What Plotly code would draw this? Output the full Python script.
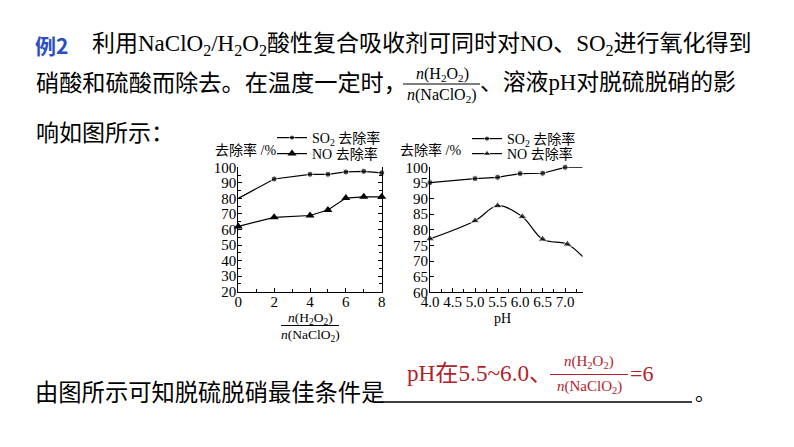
import plotly.graph_objects as go

W, H = 794, 447
OFF = 8  # page body margin of the browser

def px(x):
    return (x - OFF) / W

def py(y):
    return 1 - (y - OFF) / H

# ---------------- data ----------------
ratio_x = [0, 2, 4, 5, 6, 7, 8]
ratio_so2 = [80, 92.5, 95.5, 95.5, 97, 97.4, 96.4]
ratio_no = [62, 67.8, 69, 72.5, 80.2, 81, 81]

ph_so2_x = [4.0, 5.0, 5.5, 6.0, 6.5, 7.0, 7.39]
ph_so2 = [95.1, 96.4, 96.8, 98.0, 98.1, 100, 100]
ph_no_x = [4.0, 5.0, 5.5, 6.05, 6.5, 7.05, 7.39]
ph_no = [77.1, 82.9, 87.7, 84.2, 77.0, 75.4, 71.4]

ph_ticks = [4.0, 4.5, 5.0, 5.5, 6.0, 6.5, 7.0]
ph_ticktext = ["4.0", "4.5", "5.0", "5.5", "6.0", "6.5", "7.0"]
ratio_ticks = [0, 2, 4, 6, 8]

SO2_NAME = "SO<sub>2</sub> 去除率"
NO_NAME = "NO 去除率"

SERIF = "Liberation Serif, Noto Sans CJK SC"
RED = "#B3222A"
BLUE = "#2B4FC2"

fig = go.Figure()

line_style = dict(color="black", width=1.2)

# left chart
fig.add_trace(go.Scatter(
    x=ratio_x, y=ratio_so2, mode="lines+markers", name=SO2_NAME,
    line=line_style,
    marker=dict(symbol="circle", size=[0] + [6] * (len(ratio_x) - 1), color="black"),
    xaxis="x", yaxis="y", cliponaxis=False, legend="legend2"))
fig.add_trace(go.Scatter(
    x=ratio_x, y=ratio_no, mode="lines+markers", name=NO_NAME,
    line=line_style,
    marker=dict(symbol="triangle-up", size=8, color="black"),
    xaxis="x", yaxis="y", cliponaxis=False, legend="legend3"))

# right chart
n_so2 = len(ph_so2_x)
fig.add_trace(go.Scatter(
    x=ph_so2_x, y=ph_so2, mode="lines+markers", name=SO2_NAME,
    line=line_style,
    marker=dict(symbol="circle", size=[6] * (n_so2 - 1) + [0], color="black"),
    xaxis="x2", yaxis="y2", cliponaxis=False, legend="legend4"))
n_no = len(ph_no_x)
fig.add_trace(go.Scatter(
    x=ph_no_x, y=ph_no, mode="lines+markers", name=NO_NAME,
    line=dict(color="black", width=1.2, shape="spline", smoothing=1.0),
    marker=dict(symbol="triangle-up", size=[8] * (n_no - 1) + [0], color="black"),
    xaxis="x2", yaxis="y2", cliponaxis=False, legend="legend5"))

axis_common = dict(
    showline=True, linecolor="black", linewidth=1, showgrid=False, zeroline=False,
    ticks="inside", ticklen=4, tickcolor="black", tickwidth=1,
    tickfont=dict(family=SERIF, size=15, color="black"),
)

fig.update_layout(
    width=W, height=H,
    margin=dict(l=0, r=0, t=0, b=0, autoexpand=False),
    paper_bgcolor="white", plot_bgcolor="white",
    font=dict(family=SERIF, color="black"),
    xaxis=dict(domain=[px(238.3), px(381.7)], range=[0, 8], anchor="y",
               tickmode="array", tickvals=ratio_ticks, ticklabelstandoff=-4,
               minor=dict(dtick=1, tick0=0, ticks="inside", ticklen=3, tickcolor="black"),
               **axis_common),
    yaxis=dict(domain=[py(291.7), py(167.3)], range=[20, 100], anchor="x",
               dtick=10, tick0=20, mirror="ticks", ticklabelstandoff=-2,
               minor=dict(dtick=5, tick0=20, ticks="inside", ticklen=3, tickcolor="black"),
               **axis_common),
    xaxis2=dict(domain=[px(430), px(582.7)], range=[4, 7.39], anchor="y2",
                tickmode="array", tickvals=ph_ticks, ticktext=ph_ticktext, ticklabelstandoff=-4,
                minor=dict(dtick=0.25, tick0=4, ticks="inside", ticklen=3, tickcolor="black"),
                **axis_common),
    yaxis2=dict(domain=[py(292.3), py(167.3)], range=[60, 100], anchor="x2",
                dtick=5, tick0=60, ticklabelstandoff=-2, **axis_common),
)

leg_font = dict(family=SERIF, size=14, color="black")
for key, (lx, ly) in {"legend2": (272, 138), "legend3": (272, 154),
                      "legend4": (467, 139), "legend5": (467, 154)}.items():
    fig.update_layout(**{key: dict(x=px(lx), y=py(ly), xanchor="left", yanchor="middle",
                                   bgcolor="rgba(0,0,0,0)", font=leg_font,
                                   itemwidth=30, borderwidth=0, visible=True)})

ann = []

def text(x, y, s, size=22, color="black", xanchor="left", family=SERIF, yanchor="middle"):
    ann.append(dict(x=px(x), y=py(y), xref="paper", yref="paper", text=s,
                    showarrow=False, xanchor=xanchor, yanchor=yanchor,
                    font=dict(family=family, size=size, color=color)))

shapes = []

def hline(x0, x1, y, color="black", width=1):
    shapes.append(dict(type="line", xref="paper", yref="paper",
                       x0=px(x0), x1=px(x1), y0=py(y), y1=py(y),
                       line=dict(color=color, width=width)))

frac_num = "<i>n</i>(H<sub>2</sub>O<sub>2</sub>)"
frac_den = "<i>n</i>(NaClO<sub>2</sub>)"

# header text
text(33, 45, "<b>例2</b>", size=21, color=BLUE, family="Noto Sans CJK SC")
text(90, 45, "利用NaClO<sub>2</sub>/H<sub>2</sub>O<sub>2</sub>酸性复合吸收剂可同时对NO、SO<sub>2</sub>进行氧化得到", size=23)
text(34, 83, "硝酸和硫酸而除去。在温度一定时，", size=23.2)
text(442, 74, frac_num, size=16, xanchor="center")
hline(403, 480, 84, width=1)
text(442, 96, frac_den, size=16, xanchor="center")
text(478, 83, "、溶液pH对脱硫脱硝的影", size=22.8)
text(34, 133, "响如图所示：", size=23)

# chart labels
text(213, 150, "去除率 /%", size=14)
text(398, 150, "去除率 /%", size=14)
text(310, 318, frac_num, size=13.5, xanchor="center")
hline(281, 339, 325.5, width=1)
text(310, 335, frac_den, size=13.5, xanchor="center")
text(502, 318, "pH", size=14, xanchor="center")

# answer line
text(33, 393, "由图所示可知脱硫脱硝最佳条件是", size=23.3)
hline(382, 692, 402, width=1.5)
text(693, 394, "。", size=20)
text(405, 373, "pH在5.5~6.0、", size=23.2, color=RED)
text(589, 362, frac_num, size=15, color=RED, xanchor="center")
hline(550, 628, 374.5, color=RED, width=1)
text(589, 387, frac_den, size=15, color=RED, xanchor="center")
text(628, 373, "=6", size=22, color=RED)

fig.update_layout(annotations=ann, shapes=shapes)

fig.write_html("out.html")
